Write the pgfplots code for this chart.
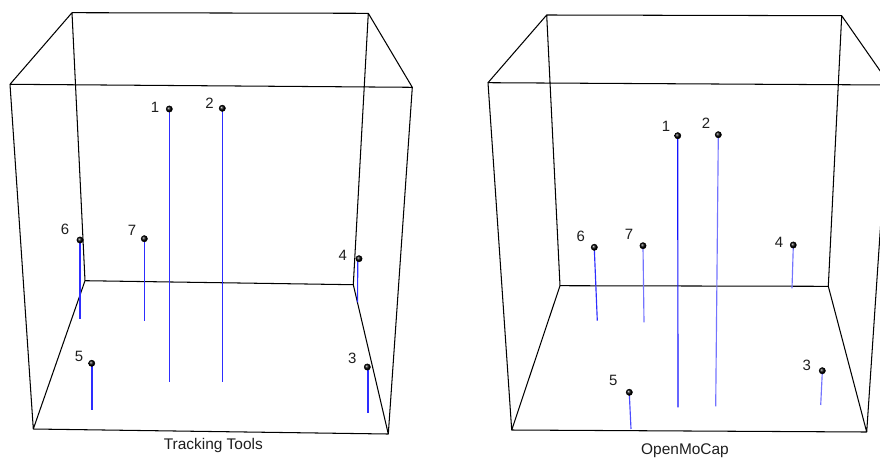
\documentclass[border=0pt]{standalone}
\usepackage{fontspec}
\setmainfont{Liberation Sans}
\usepackage{pgfplots}
\pgfplotsset{compat=1.18}
\definecolor{dropA}{RGB}{45,45,255}
\definecolor{dropB}{RGB}{20,20,255}
\definecolor{dropC}{RGB}{115,115,255}
\definecolor{dropD}{RGB}{75,75,255}
\definecolor{txt}{RGB}{30,30,30}
\begin{document}
\begin{tikzpicture}[x=1bp,y=1bp]
\begin{axis}[
  scale only axis, width=880bp, height=459bp,
  xmin=0, xmax=880, ymin=0, ymax=459, y dir=reverse,
  hide axis, clip=true,
  unbounded coords=jump,
  every axis plot/.append style={line join=round},
  boxedge/.style={black, line width=1.05pt, mark=none},
  drop/.style={line width=1.15pt, mark=none},
  pts/.style={only marks, mark=ball, mark size=3.2pt, ball color=black},
  lbl/.style={only marks, mark=none, point meta=explicit symbolic,
    nodes near coords, every node near coord/.append style={anchor=center,
      inner sep=0pt, font=\fontsize{15}{15}\selectfont, text=txt}},
]
% ---------- Tracking Tools: box edges (projected) ----------
\addplot[boxedge] coordinates {
  (10,84.3) (412.3,87.3) (388.3,434) (33.3,429) (10,84.3)
  (nan,nan)
  (72,12.7) (368.3,13.3) (353.3,284.7) (85,280.7) (72,12.7)
  (nan,nan)
  (10,84.3) (72,12.7)
  (nan,nan)
  (412.3,87.3) (368.3,13.3)
  (nan,nan)
  (388.3,434) (353.3,284.7)
  (nan,nan)
  (33.3,429) (85,280.7)
};
% drop lines to the floor
\addplot[drop, dropA] coordinates {(169.3,110) (169.3,382.3)};
\addplot[drop, dropA] coordinates {(222.3,109) (222.3,382.3)};
\addplot[drop, dropA] coordinates {(80,241) (80,319)};
\addplot[drop, dropA] coordinates {(144.8,240) (144.8,320.7)};
\addplot[drop, dropA] coordinates {(357.8,259.5) (357.5,302.3)};
\addplot[drop, dropA] coordinates {(92,364) (92,410)};
\addplot[drop, dropA] coordinates {(368,368) (368,413)};
% points
\addplot[pts] coordinates {
  (169.3,109) (222.3,108.3) (367.3,367) (359,258.7) (91.7,363.3) (80,240) (144.3,238.7)
};
% point labels
\addplot[lbl] table[meta=lab] {
x y lab
155 107 1
209.5 103 2
352.3 358.3 3
342.7 255.7 4
79 356.7 5
65 229 6
132 230.5 7
};
\node[font=\fontsize{15.5}{15.5}\selectfont, text=txt] at (axis cs:213.3,445.5) {Tracking Tools};

% ---------- OpenMoCap: box edges (projected) ----------
\addplot[boxedge] coordinates {
  (488,82.7) (890,85) (866.7,432) (511.7,430) (488,82.7)
  (nan,nan)
  (546.7,15) (841.7,15.7) (828.3,286.3) (560,285.7) (546.7,15)
  (nan,nan)
  (488,82.7) (546.7,15)
  (nan,nan)
  (890,85) (841.7,15.7)
  (nan,nan)
  (866.7,432) (828.3,286.3)
  (nan,nan)
  (511.7,430) (560,285.7)
};
% drop lines to the floor
\addplot[drop, dropB] coordinates {(677.7,137) (678,407.3)};
\addplot[drop, dropC] coordinates {(718.3,136) (715.7,406.3)};
\addplot[drop, dropA] coordinates {(594.3,248.5) (597.3,320.7)};
\addplot[drop, dropC] coordinates {(643,247) (644,322.3)};
\addplot[drop, dropC] coordinates {(793.3,246) (792,288.3)};
\addplot[drop, dropD] coordinates {(629.3,393.5) (631,429)};
\addplot[drop, dropC] coordinates {(822.3,372) (820.7,405)};
% points
\addplot[pts] coordinates {
  (677.7,135.7) (718.3,134.7) (822.3,370.7) (793.3,245) (629.3,392.3) (594.3,247.3) (643,245.7)
};
% point labels
\addplot[lbl] table[meta=lab] {
x y lab
666 126.7 1
706 123.3 2
806.7 365.7 3
779 242.3 4
613.3 380.7 5
580.7 236.3 6
629 234 7
};
\node[font=\fontsize{15.5}{15.5}\selectfont, text=txt] at (axis cs:685,451) {OpenMoCap};
\end{axis}
\pgfresetboundingbox
\path (current axis.south west) rectangle (current axis.north east);
\end{tikzpicture}
\end{document}
